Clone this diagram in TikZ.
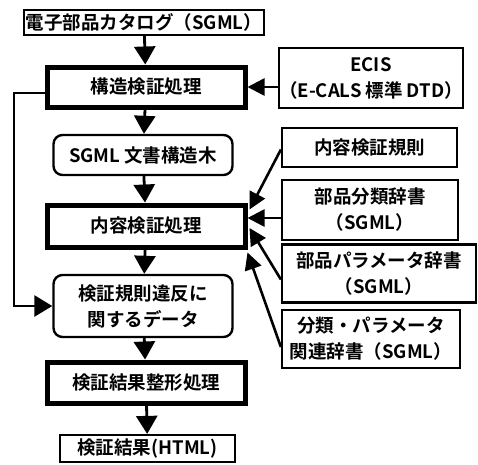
\documentclass[tikz,border=0pt]{standalone}
\usepackage{fontspec}
\setmainfont{Noto Sans CJK JP}[BoldFont={Noto Sans CJK JP Bold}]
\usetikzlibrary{arrows.meta,calc}
\tikzset{
  base/.style={draw=black, inner sep=0pt, align=center, font=\fontsize{18.5}{26}\selectfont\bfseries},
  thinbox/.style={base, line width=2.2pt},
  thickbox/.style={base, line width=5pt},
  roundbox/.style={base, line width=2.4pt, rounded corners=9pt},
  arr/.style={line width=2.8pt, -{Triangle[length=18pt,width=21pt]}},
  sidearr/.style={line width=2.6pt, -{Triangle[length=17pt,width=17pt]}},
}
\begin{document}
\begin{tikzpicture}[x=1pt,y=-1pt]
\useasboundingbox (0,0) rectangle (478,464);
% main column
\node[thinbox, minimum width=240, minimum height=25] (cat) at (144,22.5) {電子部品カタログ（SGML）};
\node[thickbox, minimum width=198, minimum height=40] (kozo) at (146,87) {構造検証処理};
\node[roundbox, minimum width=179, minimum height=40] (tree) at (143,155) {SGML 文書構造木};
\node[thickbox, minimum width=198, minimum height=42] (naiyo) at (146,226) {内容検証処理};
\node[roundbox, minimum width=179, minimum height=62] (ihan) at (143,306) {検証規則違反に\\関するデータ};
\node[thickbox, minimum width=198, minimum height=41] (seikei) at (146,382.5) {検証結果整形処理};
\node[thinbox, minimum width=175, minimum height=27] (html) at (147.5,448.5) {検証結果(HTML)};
% right column
\node[thinbox, minimum width=178, minimum height=60] (ecis) at (371,78) {ECIS\\（E-CALS 標準 DTD）};
\node[thinbox, minimum width=175, minimum height=39] (rule) at (369.5,147.5) {内容検証規則};
\node[thinbox, minimum width=176, minimum height=60] (bunrui) at (370,210) {部品分類辞書\\（SGML）};
\node[thinbox, minimum width=194, minimum height=58] (param) at (379,273.5) {部品パラメータ辞書\\（SGML）};
\node[thinbox, minimum width=178, minimum height=58] (kanren) at (371,339) {分類・パラメータ\\関連辞書（SGML）};
% main flow
\draw[arr] (cat) -- (kozo);
\draw[arr] (kozo) -- (tree);
\draw[arr] (tree) -- (naiyo);
\draw[arr] (naiyo) -- (ihan);
\draw[arr] (ihan) -- (seikei);
\draw[arr] (seikei) -- (html);
% feedback
\coordinate (fb) at (14,93);
\draw[arr] ([yshift=-6pt]kozo.west) -- (fb) |- (ihan.west);
% right inputs
\draw[sidearr] (ecis.west |- kozo.east) -- (kozo.east);
\draw[sidearr] ([yshift=-2pt]rule.west) -- ([xshift=2pt,yshift=-7pt]naiyo.north east);
\draw[sidearr] ([yshift=-8pt]bunrui.west) -- ([yshift=-8pt]bunrui.west -| naiyo.east);
\draw[sidearr] ([yshift=-6pt]param.west) -- ([xshift=2pt,yshift=-2pt]naiyo.east);
\draw[sidearr] ([yshift=-8pt]kanren.west) -- ([yshift=-3pt]naiyo.south east);
\end{tikzpicture}
\end{document}
